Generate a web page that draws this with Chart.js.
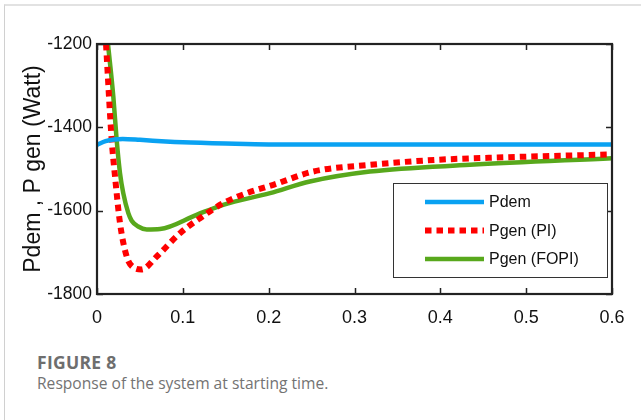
<!DOCTYPE html>
<html>
<head>
<meta charset="utf-8">
<script src="https://cdn.jsdelivr.net/npm/chart.js@4.4.1/dist/chart.umd.min.js"></script>
<style>
  body { margin: 0; background: #fff; }
  #page { position: relative; width: 641px; height: 420px; overflow: hidden; }
  #frame { position: absolute; left: 4px; top: 4px; right: -10px; bottom: -10px;
           border-top: 2px solid #e2e2e2; border-left: 1px solid #d0d0d0; }
  #myChart { position: absolute; left: 0; top: 0; }
  .cap { position: absolute; left: 37px; font-family: "Open Sans", sans-serif; line-height: 20px; white-space: nowrap; }
  #figNum { top: 352px; font-size: 17.5px; font-weight: bold; color: #6e6e6e; letter-spacing: 0.3px; }
  #figText { top: 373px; font-size: 15.6px; color: #737373; }
</style>
</head>
<body>
<div id="page">
  <div id="frame"></div>
  <canvas id="myChart" width="641" height="330"></canvas>
  <div class="cap" id="figNum">FIGURE 8</div>
  <div class="cap" id="figText">Response of the system at starting time.</div>
</div>
<script>
// tick labels
const xTickLabels = ["0", "0.1", "0.2", "0.3", "0.4", "0.5", "0.6"];
const yTickLabels = ["-1800", "-1600", "-1400", "-1200"];

// Pdem
const tPdem = [0, 0.01, 0.02, 0.03, 0.05, 0.08, 0.1, 0.15, 0.2, 0.3, 0.4, 0.5, 0.6];
const pdem = [-1442, -1433, -1429, -1428, -1430, -1434, -1436, -1439, -1441, -1441, -1441, -1441, -1441];

// Pgen with PI controller
const tPI = [0.0105, 0.0171, 0.021, 0.0268, 0.0346, 0.0423, 0.052, 0.0696, 0.0967, 0.12, 0.147, 0.1744, 0.2054, 0.252, 0.318, 0.3958, 0.4734, 0.6];
const pgenPI = [-1200, -1430, -1518, -1630, -1710, -1736, -1741, -1710, -1654, -1618, -1582, -1558, -1538, -1506, -1490, -1478, -1472, -1465];

// Pgen with FOPI controller
const tFOPI = [0.0128, 0.019, 0.0229, 0.0268, 0.0306, 0.0365, 0.0404, 0.048, 0.058, 0.0734, 0.116, 0.147, 0.2016, 0.248, 0.318, 0.4346, 0.6];
const pgenFOPI = [-1200, -1326, -1430, -1510, -1558, -1606, -1624, -1638, -1645, -1644, -1610, -1586, -1558, -1530, -1506, -1490, -1474];

const tickFont = "'Liberation Sans', Arial, sans-serif";

function toPoints(xs, ys) {
  return xs.map((x, i) => ({ x: x, y: ys[i] }));
}

// box round the axes, with inward ticks on all four sides
const boxPlugin = {
  id: "box",
  afterDatasetsDraw(chart) {
    const ctx = chart.ctx;
    const ca = chart.chartArea;
    const xs = chart.scales.x;
    const ys = chart.scales.y;
    ctx.save();
    ctx.strokeStyle = "#222";
    ctx.lineWidth = 1.5;
    ctx.beginPath();
    xs.ticks.forEach((t) => {
      const px = Math.round(xs.getPixelForValue(t.value)) + 0.5;
      ctx.moveTo(px, ca.bottom);
      ctx.lineTo(px, ca.bottom - 6);
      ctx.moveTo(px, ca.top);
      ctx.lineTo(px, ca.top + 6);
    });
    ys.ticks.forEach((t) => {
      const py = Math.round(ys.getPixelForValue(t.value)) + 0.5;
      ctx.moveTo(ca.left, py);
      ctx.lineTo(ca.left + 6, py);
      ctx.moveTo(ca.right, py);
      ctx.lineTo(ca.right - 6, py);
    });
    ctx.stroke();
    ctx.lineWidth = 2.2;
    ctx.strokeRect(ca.left, ca.top, ca.right - ca.left, ca.bottom - ca.top);
    ctx.restore();
  },
};

// legend box in the lower right corner of the axes
const legendPlugin = {
  id: "boxLegend",
  afterDraw(chart) {
    const ctx = chart.ctx;
    const ca = chart.chartArea;
    const left = ca.right - 219;
    const top = ca.top + 139;
    ctx.save();
    ctx.fillStyle = "#fff";
    ctx.fillRect(left, top, 214, 94);
    ctx.strokeStyle = "#333";
    ctx.lineWidth = 1;
    ctx.strokeRect(left + 0.5, top + 0.5, 214, 94);
    chart.data.datasets.forEach((ds, i) => {
      const y = top + 19 + i * 28.5;
      ctx.strokeStyle = ds.borderColor;
      ctx.lineWidth = ds.borderWidth;
      ctx.setLineDash(ds.borderDash || []);
      ctx.beginPath();
      ctx.moveTo(left + 32, y);
      ctx.lineTo(left + 91, y);
      ctx.stroke();
      ctx.setLineDash([]);
      ctx.fillStyle = "#111";
      ctx.font = "16px " + tickFont;
      ctx.textBaseline = "middle";
      ctx.fillText(ds.label, left + 96, y + 1);
    });
    ctx.restore();
  },
};

const ctx = document.getElementById("myChart").getContext("2d");
const chart = new Chart(ctx, {
  type: "line",
  data: {
    datasets: [
      {
        label: "Pdem",
        data: toPoints(tPdem, pdem),
        borderColor: "#0aa2f2",
        borderWidth: 4.5,
        cubicInterpolationMode: "monotone",
      },
      {
        label: "Pgen (PI)",
        data: toPoints(tPI, pgenPI),
        borderColor: "#ff0000",
        borderWidth: 6,
        borderDash: [6.5, 5],
        cubicInterpolationMode: "monotone",
      },
      {
        label: "Pgen (FOPI)",
        data: toPoints(tFOPI, pgenFOPI),
        borderColor: "#58a81c",
        borderWidth: 4.5,
        cubicInterpolationMode: "monotone",
      },
    ],
  },
  options: {
    responsive: false,
    animation: false,
    elements: { point: { radius: 0 } },
    layout: { padding: { top: 44, right: 29, left: 0, bottom: 0 } },
    plugins: { legend: { display: false }, tooltip: { enabled: false } },
    scales: {
      x: {
        type: "linear",
        min: 0,
        max: 0.6,
        grid: { display: false, drawTicks: false },
        border: { display: false },
        ticks: {
          stepSize: 0.1,
          padding: 13,
          color: "#111",
          font: { family: tickFont, size: 18 },
          callback: (v, i) => xTickLabels[i],
        },
        afterFit: (s) => { s.height = 36; },
      },
      y: {
        min: -1800,
        max: -1200,
        grid: { display: false, drawTicks: false },
        border: { display: false },
        ticks: {
          stepSize: 200,
          padding: 5,
          color: "#111",
          font: { family: tickFont, size: 17.5 },
          callback: (v, i) => yTickLabels[i],
        },
        title: {
          display: true,
          text: "Pdem , P gen (Watt)",
          color: "#111",
          font: { family: tickFont, size: 23 },
          padding: { top: 20, bottom: 0 },
        },
        afterFit: (s) => { s.width = 97; },
      },
    },
  },
  plugins: [boxPlugin, legendPlugin],
});
</script>
</body>
</html>
